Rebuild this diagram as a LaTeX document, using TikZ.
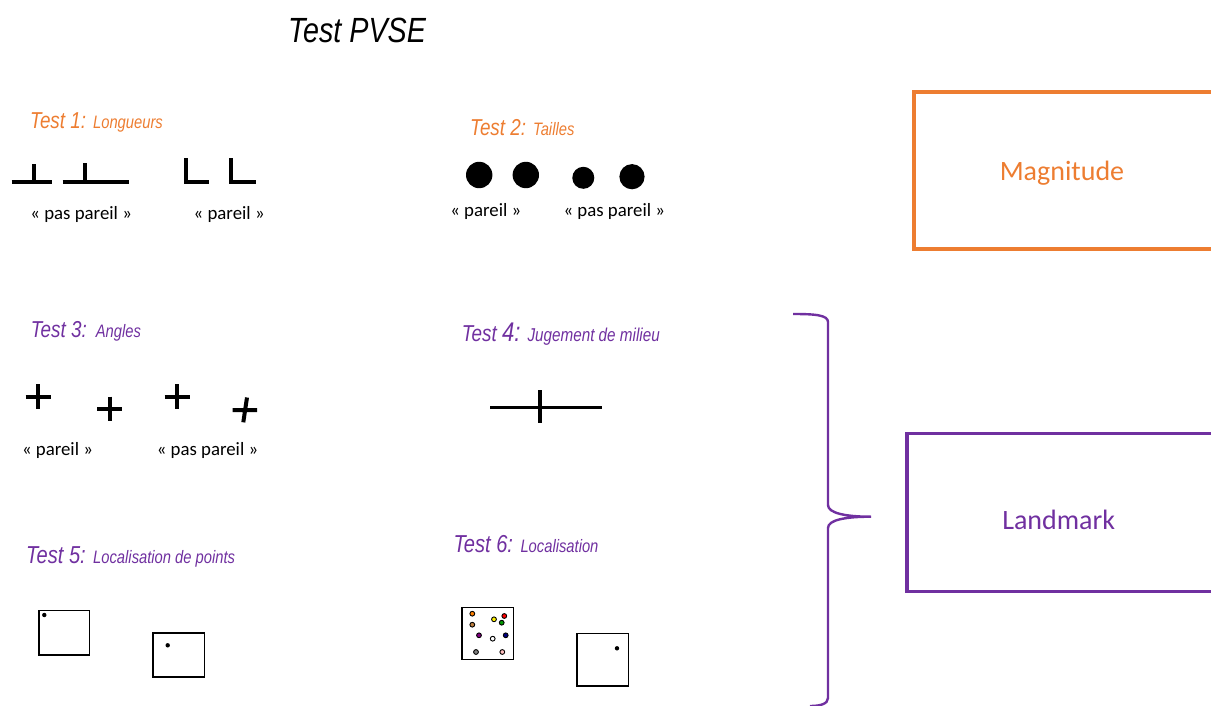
\documentclass[tikz,border=0pt]{standalone}
\usepackage{fontspec}
\setmainfont{Carlito}
\newfontfamily\narrowsans[FakeStretch=0.82]{Liberation Sans}
\usepackage{tikz}
\usetikzlibrary{positioning}
\definecolor{magorange}{HTML}{ED7D31}
\definecolor{landpurple}{HTML}{7030A0}
\newcommand{\tbig}{\narrowsans\itshape\fontsize{23}{23}\selectfont}
\newcommand{\tbigger}{\narrowsans\itshape\fontsize{24.5}{24.5}\selectfont}
\newcommand{\tsmall}{\narrowsans\itshape\fontsize{18}{18}\selectfont}

\begin{document}
\begin{tikzpicture}[x=1pt, y=-1pt,
  title/.style={anchor=base west, inner sep=0pt},
  word/.style={anchor=base, inner sep=0pt, font=\fontsize{18.8}{18.8}\selectfont},
  bar/.style={line width=4},
  frame/.style={line width=1.6},
  blob/.style={circle, fill=black, inner sep=0pt},
  pin/.style={circle, draw=black, line width=0.9, inner sep=0pt, minimum size=4.8},
  catbox/.style={draw, line width=3.5},
  catword/.style={anchor=base, inner sep=0pt, font=\fontsize{28}{28}\selectfont}]
  \useasboundingbox (0,0) rectangle (1211,706);

  \node[title] (title) at (288,42.3) {\narrowsans\itshape\fontsize{35}{35}\selectfont Test PVSE};

  % Test 1
  \node[title, text=magorange] (T1) at (30,128.3) {\tbig Test 1: \tsmall Longueurs};
  \draw[bar] (11.7,182.5) -- (51.7,182.5) (33.7,182.5) -- (33.7,164);
  \draw[bar] (62.7,182.5) -- (129.3,182.5) (85,182.5) -- (85,163.3);
  \draw[bar] (185.5,158.3) |- (209,182.5);
  \draw[bar] (231.3,158.3) |- (256,182.5);
  \node[word] (l1a) at (81.2,219) {« pas pareil »};
  \node[word] (l1b) at (229.2,219) {« pareil »};

  % Test 2
  \node[title, text=magorange] (T2) at (470,136) {\tbig Test 2: \tsmall Tailles};
  \node[blob, minimum size=26.4] (d1) at (479.2,175) {};
  \node[blob, minimum size=26.4] (d2) at (525.8,175) {};
  \node[blob, minimum size=22] (d3) at (583.3,177.8) {};
  \node[blob, minimum size=25.2] (d4) at (632,176.7) {};
  \node[word] (l2a) at (485.8,216) {« pareil »};
  \node[word] (l2b) at (614.3,216) {« pas pareil »};

  % Test 3
  \node[title, text=landpurple] (T3) at (30.7,337.3) {\tbig Test 3:\hspace{9pt}\tsmall Angles};
  \foreach \x/\y in {38/396.5, 109.5/409, 177/396.5}
    \draw[bar] (\x-12.5,\y) -- (\x+12.5,\y) (\x,\y-12.3) -- (\x,\y+12.3);
  \draw[bar] (232.7,410) -- (257,410) (247,397.5) -- (243.3,422.3);
  \node[word] (l3a) at (57.5,455) {« pareil »};
  \node[word] (l3b) at (207.5,455) {« pas pareil »};

  % Test 4
  \node[title, text=landpurple] (T4) at (461.7,341.7) {\tbig Test {\fontsize{27}{27}\selectfont 4:} \narrowsans\itshape\fontsize{18.6}{18.6}\selectfont Jugement de milieu};
  \draw[bar, line width=3.3] (490,407.3) -- (601.7,407.3) (540,390) -- (540,423.3);

  % Test 5
  \node[title, text=landpurple] (T5) at (26,563.3) {\tbigger Test 5: \tsmall Localisation de points};
  \draw[frame] (39,610.3) rectangle (89.3,655);
  \fill (44.3,615) circle (2.2);
  \draw[frame] (153,632.7) rectangle (204.3,677);
  \fill (167.7,645.3) circle (2.2);

  % Test 6
  \node[title, text=landpurple] (T6) at (453.3,552.3) {\tbigger Test 6: \tsmall Localisation};
  \draw[frame] (461.7,607.3) rectangle (513.3,659.3);
  \foreach \x/\y/\c [count=\i] in {472.3/613.7/orange, 472.3/624.7/brown, 494/619.3/yellow,
      504.3/616/red, 501.7/622.7/green!60!black, 479/635.3/violet, 492.7/638.7/white,
      505.7/635.3/blue!50!black, 476/652/gray, 502.3/652/pink}
    \node[pin, fill=\c] (p\i) at (\x,\y) {};
  \draw[frame] (576.7,633.3) rectangle (628.3,686);
  \fill (617,648.3) circle (2.2);

  % categories
  \node[catbox, draw=magorange, minimum width=311, minimum height=157] (magbox) at (1069.5,170.3) {};
  \node[catword, text=magorange] (mag) at (1062,181) {Magnitude};
  \node[catbox, draw=landpurple, minimum width=318.3, minimum height=158] (landbox) at (1065.9,512.5) {};
  \node[catword, text=landpurple] (land) at (1058.7,529.5) {Landmark};

  % brace
  \draw[landpurple, line width=2.4] (793,314) .. controls (815,314) and (828,315) .. (828,322)
    -- (828,505) .. controls (828,513) and (845,516.7) .. (871,516.7)
    .. controls (845,516.7) and (828,520) .. (828,528)
    -- (828,698) .. controls (828,704) and (820,706) .. (810,706);
\end{tikzpicture}
\end{document}
